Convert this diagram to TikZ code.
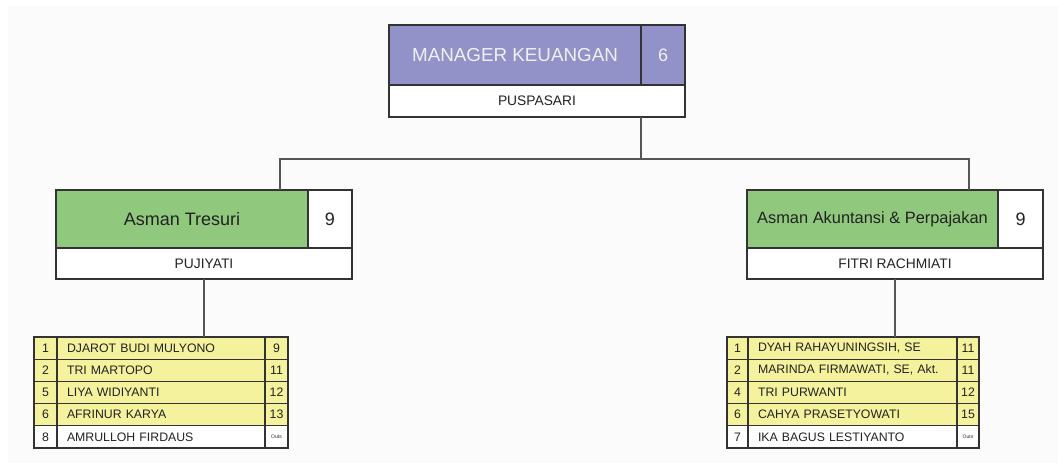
\documentclass[tikz,border=0pt]{standalone}
\usepackage{fontspec}
\setmainfont{Liberation Sans}
\definecolor{purp}{HTML}{9292C8}
\definecolor{grn}{HTML}{90C87D}
\definecolor{yel}{HTML}{F4F29C}
\definecolor{boxline}{HTML}{333333}
\definecolor{connline}{HTML}{555555}
\definecolor{txt}{HTML}{222222}
\definecolor{bgc}{HTML}{FBFBFB}
\begin{document}
\begin{tikzpicture}[x=1pt,y=-1pt,
  box/.style={draw=boxline, line width=1.3pt, inner sep=0pt, outer sep=0pt, anchor=north west, text=txt},
  title/.style={box, font=\fontsize{18}{20}\selectfont},
  pname/.style={box, fill=white, font=\fontsize{13.8}{15}\selectfont},
  cell/.style={box, line width=1.2pt, minimum height=22.2pt, font=\fontsize{12.3}{14}\selectfont},
  namecell/.style={cell, align=left, inner xsep=10pt},
  conn/.style={draw=connline, line width=1.4pt}]
\useasboundingbox (0,0) rectangle (1058,463);
\fill[white] (0,0) rectangle (1058,463);
\fill[bgc] (8,6) rectangle (1058,463);

% Manager
\node[title, fill=purp, text=white!94!black, minimum width=252pt, minimum height=60pt, font=\fontsize{18.8}{20}\selectfont] (mt) at (389,25) {MANAGER KEUANGAN};
\node[title, fill=purp, text=white!94!black, minimum width=44pt, minimum height=60pt] (mn) at (641,25) {6};
\node[pname, minimum width=296pt, minimum height=32pt] (mp) at (389,85) {PUSPASARI};

% Left assistant
\node[title, fill=grn, minimum width=252pt, minimum height=58pt] (lt) at (56,190) {Asman Tresuri};
\node[title, fill=white, minimum width=44pt, minimum height=58pt] (ln) at (308,190) {9};
\node[pname, minimum width=296pt, minimum height=31pt] (lp) at (56,248) {PUJIYATI};

% Right assistant
\node[title, fill=grn, minimum width=251pt, minimum height=58pt, font=\fontsize{16.4}{18}\selectfont] (rt) at (747,190) {Asman Akuntansi \& Perpajakan};
\node[title, fill=white, minimum width=45pt, minimum height=58pt] (rn) at (998,190) {9};
\node[pname, minimum width=296pt, minimum height=31pt] (rp) at (747,248) {FITRI RACHMIATI};

% Left table
\foreach \i/\n/\nm/\g/\f in {0/1/DJAROT BUDI MULYONO/9/yel,1/2/TRI MARTOPO/11/yel,2/5/LIYA WIDIYANTI/12/yel,3/6/AFRINUR KARYA/13/yel,4/8/AMRULLOH FIRDAUS/{\fontsize{5}{6}\selectfont Outs}/white}{
  \pgfmathsetmacro\yy{337+\i*22.2}
  \node[cell, fill=\f, minimum width=23pt] (La\i) at (34,\yy) {\n};
  \node[namecell, fill=\f, text width=188pt] (Lb\i) at (57,\yy) {\nm};
  \node[cell, fill=\f, minimum width=23pt] (Lc\i) at (265,\yy) {\g};
}

% Right table
\foreach \i/\n/\nm/\g/\f in {0/1/{DYAH RAHAYUNINGSIH, SE}/11/yel,1/2/{MARINDA FIRMAWATI, SE, Akt.}/11/yel,2/4/TRI PURWANTI/12/yel,3/6/CAHYA PRASETYOWATI/15/yel,4/7/IKA BAGUS LESTIYANTO/{\fontsize{5}{6}\selectfont Outs}/white}{
  \pgfmathsetmacro\yy{337+\i*22.2}
  \node[cell, fill=\f, minimum width=21pt] (Ra\i) at (727,\yy) {\n};
  \node[namecell, fill=\f, text width=189pt] (Rb\i) at (748,\yy) {\nm};
  \node[cell, fill=\f, minimum width=22pt] (Rc\i) at (957,\yy) {\g};
}

% Connectors
\coordinate (jl) at (280,159);
\coordinate (jr) at (969,159);
\draw[conn] (mn.west |- mp.south) -- (mn.west |- jl);
\draw[conn] (jl |- lt.north) -- (jl) -- (jr) -- (jr |- rt.north);
\draw[conn] (lp.south) -- (lp.south |- Lb0.north);
\draw[conn] (rp.south) -- (rp.south |- Rb0.north);
\end{tikzpicture}
\end{document}
